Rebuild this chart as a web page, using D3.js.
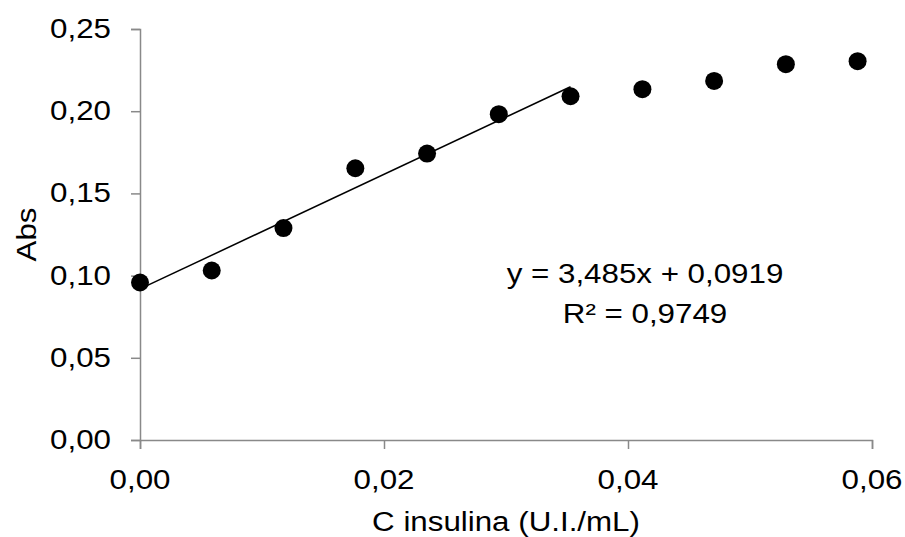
<!DOCTYPE html>
<html>
<head>
<meta charset="utf-8">
<script src="https://cdn.jsdelivr.net/npm/d3@7"></script>
<style>
  body { margin: 0; background: #fff; }
  svg text { font-family: "Liberation Sans", Arial, sans-serif; fill: #000; }
</style>
</head>
<body>
<div id="chart"></div>
<script>
// concentration of insulin (U.I./mL)
var concentrations = [0, 0.00588, 0.01176, 0.01765, 0.02353, 0.02941, 0.03529, 0.04118, 0.04706, 0.05294, 0.05882];
// absorbance
var absorbances = [0.0958, 0.1031, 0.1289, 0.1653, 0.1742, 0.1982, 0.2091, 0.2134, 0.2184, 0.2286, 0.2304];
// linear fit over first 7 points
var trendSlope = 3.485;
var trendIntercept = 0.0919;
var trendCount = 7;
var xTicks = [0, 0.02, 0.04, 0.06];
var yTicks = [0, 0.05, 0.10, 0.15, 0.20, 0.25];
var equationLines = ["y = 3,485x + 0,0919", "R\u00b2 = 0,9749"];

var width = 905, height = 537;
var margin = {left: 140, right: 33, top: 29, bottom: 97};
var fontSize = 27;
var stretch = 1.16; // glyphs in the original are a bit wider than Arial

var svg = d3.select("#chart").append("svg")
    .attr("width", width)
    .attr("height", height);

var x = d3.scaleLinear().domain([0, 0.06]).range([margin.left, width - margin.right]);
var y = d3.scaleLinear().domain([0, 0.25]).range([height - margin.bottom, margin.top]);

var fmt = function(d) { return d3.format(".2f")(d).replace(".", ","); };
var axisColor = "#898989";

// text helper - translate, rotate, then stretch along the baseline
function label(px, py, txt, anchor, rot) {
    var g = svg.append("g")
        .attr("transform", "translate(" + px + "," + py + ") rotate(" + (rot || 0) + ") scale(" + stretch + ",1)");
    g.append("text")
        .attr("text-anchor", anchor || "middle")
        .attr("font-size", fontSize)
        .text(txt);
    return g;
}

// x axis
var gx = svg.append("g")
    .attr("transform", "translate(0," + y(0) + ")")
    .call(d3.axisBottom(x).tickValues(xTicks).tickFormat("").tickSize(9));
// y axis
var gy = svg.append("g")
    .attr("transform", "translate(" + x(0) + ",0)")
    .call(d3.axisLeft(y).tickValues(yTicks).tickFormat("").tickSize(9));

[gx, gy].forEach(function(g) {
    g.select(".domain").attr("stroke", axisColor).attr("stroke-width", 1.5);
    g.selectAll(".tick line").attr("stroke", axisColor).attr("stroke-width", 1.5);
});

xTicks.forEach(function(t) { label(x(t), y(0) + 49, fmt(t), "middle"); });
yTicks.forEach(function(t) { label(x(0) - 29, y(t) + 9, fmt(t), "end"); });

// trendline
var trendExtent = d3.extent(concentrations.slice(0, trendCount));
var line = d3.line()
    .x(function(d) { return x(d); })
    .y(function(d) { return y(trendSlope * d + trendIntercept); });
svg.append("path")
    .attr("d", line(trendExtent))
    .attr("fill", "none")
    .attr("stroke", "#000")
    .attr("stroke-width", 1.5);

// points
svg.selectAll("circle.pt")
    .data(concentrations.map(function(c, i) { return {x: c, y: absorbances[i]}; }))
    .enter().append("circle")
    .attr("class", "pt")
    .attr("cx", function(d) { return x(d.x); })
    .attr("cy", function(d) { return y(d.y); })
    .attr("r", 9)
    .attr("fill", "#000");

// equation label
equationLines.forEach(function(s, i) { label(645, 283 + i * 40, s, "middle"); });

// axis titles
label(506, 531, "C insulina (U.I./mL)", "middle");
label(36, (margin.top + y(0)) / 2, "Abs", "middle", -90);
</script>
</body>
</html>
